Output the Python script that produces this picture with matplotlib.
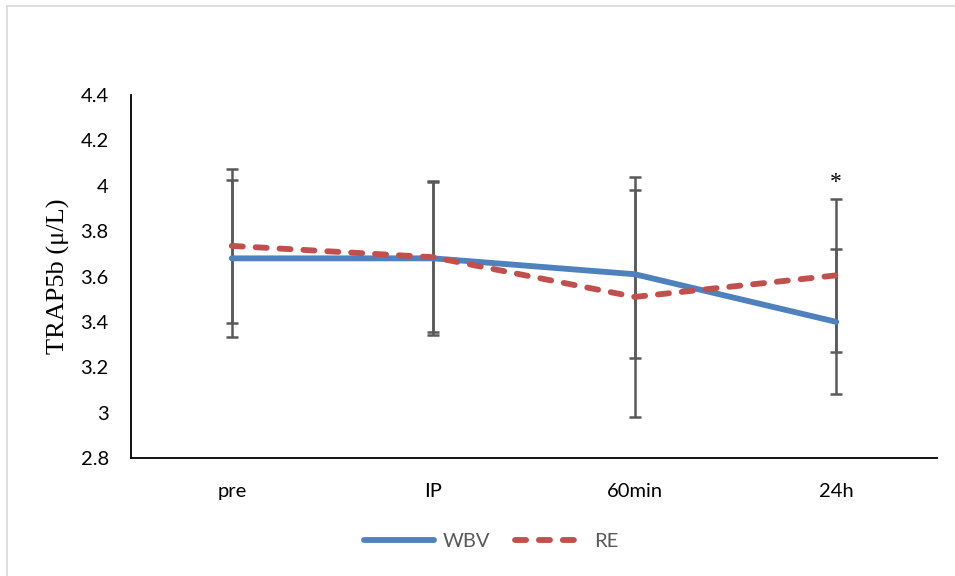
import matplotlib.pyplot as plt
from matplotlib.lines import Line2D

categories = ["pre", "IP", "60min", "24h"]
wbv = [3.68, 3.68, 3.61, 3.40]
wbv_err = [0.345, 0.34, 0.37, 0.32]
re = [3.735, 3.685, 3.51, 3.605]
re_err = [0.34, 0.33, 0.53, 0.337]
yticks = [2.8, 3.0, 3.2, 3.4, 3.6, 3.8, 4.0, 4.2, 4.4]
ytick_labels = ["2.8", "3", "3.2", "3.4", "3.6", "3.8", "4", "4.2", "4.4"]

W, H = 955, 576
fig = plt.figure(figsize=(W / 100, H / 100), dpi=100)
ax = fig.add_axes([131 / W, 1 - 458 / H, (937 - 131) / W, (458 - 95) / H])

x = range(len(categories))
ebar_kw = dict(fmt="none", ecolor="#595959", elinewidth=1.8, capsize=4.5, capthick=1.8, zorder=2)
ax.errorbar(x, wbv, yerr=wbv_err, **ebar_kw)
ax.errorbar(x, re, yerr=re_err, **ebar_kw)

ax.plot(x, wbv, color="#4F81BD", lw=4.2, solid_capstyle="round", label="WBV", zorder=3)
ax.plot(x, re, color="#C0504D", lw=4.2, dashes=(1.9, 2.2), dash_capstyle="round", label="RE", zorder=3)

ax.text(3, 3.99, "*", ha="center", va="baseline", fontsize=17, family="Liberation Serif")

ax.set_xlim(-0.5, 3.5)
ax.set_ylim(2.8, 4.4)
ax.set_yticks(yticks)
ax.set_yticklabels(ytick_labels)
ax.set_xticks(list(x))
ax.set_xticklabels(categories)
ax.tick_params(axis="both", length=0, labelsize=14.5)
for lab in ax.get_xticklabels() + ax.get_yticklabels():
    lab.set_family("Lato")
ax.tick_params(axis="y", pad=16)
ax.tick_params(axis="x", pad=18)

for s in ["top", "right"]:
    ax.spines[s].set_visible(False)
ax.spines["left"].set_linewidth(1.3)
ax.spines["bottom"].set_linewidth(1.3)

ax.set_ylabel("TRAP5b (μ/L)", family="Liberation Serif", fontsize=19)
ax.yaxis.set_label_coords((70 - 131) / 806, 0.5)

leg = fig.legend(loc="center", bbox_to_anchor=(491 / W, 1 - 541 / H), ncol=2, frameon=False,
                 handlelength=3.5, columnspacing=1.25, handletextpad=0.4,
                 prop={"family": "Lato", "size": 14.5})
for t in leg.get_texts():
    t.set_color("#595959")

fig.add_artist(Line2D([6.5 / W, 6.5 / W], [0, 1 - 5.5 / H], transform=fig.transFigure, color="#d9d9d9", lw=1.2))
fig.add_artist(Line2D([6.5 / W, 1], [1 - 5.5 / H, 1 - 5.5 / H], transform=fig.transFigure, color="#d9d9d9", lw=1.2))

fig.savefig("out.png", dpi=100)
